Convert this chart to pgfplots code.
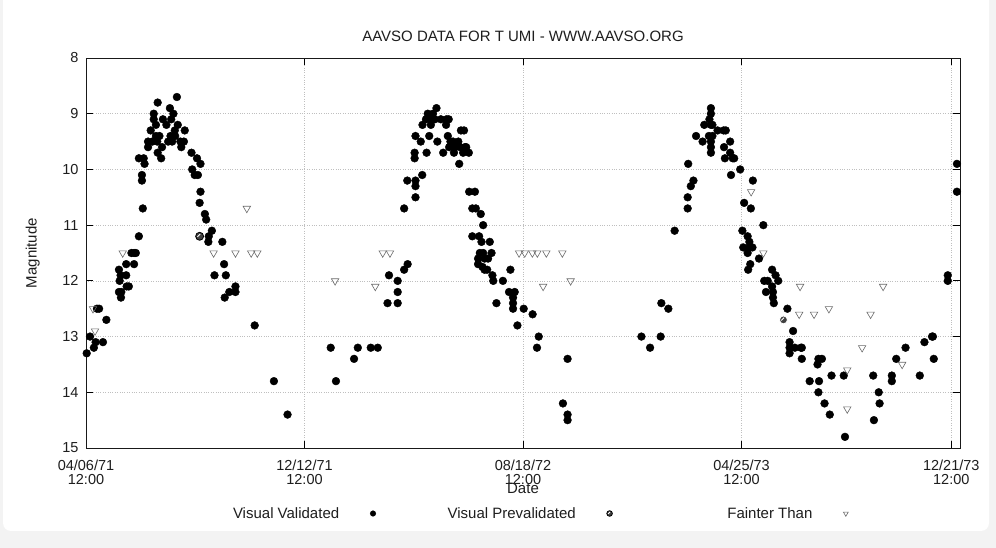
\documentclass[border=0pt]{standalone}
\usepackage{fontspec}
\setmainfont{Liberation Sans}
\usepackage{pgfplots}
\pgfplotsset{compat=1.18}
\definecolor{bggray}{HTML}{F3F3F3}
\definecolor{txt}{HTML}{1E1E1E}
\definecolor{tri}{HTML}{6A6A6A}
\pgfdeclareplotmark{preval}{%
  \pgfpathcircle{\pgfpointorigin}{\pgfplotmarksize}%
  \pgfusepathqfillstroke
  \pgfsetstrokecolor{white}\pgfsetlinewidth{0.9pt}%
  \pgfpathmoveto{\pgfpoint{-0.55\pgfplotmarksize}{-0.15\pgfplotmarksize}}%
  \pgfpathlineto{\pgfpoint{0.15\pgfplotmarksize}{0.55\pgfplotmarksize}}%
  \pgfusepathqstroke
}
\begin{document}
\begin{tikzpicture}[x=1pt,y=1pt]
\useasboundingbox (0,0) rectangle (996,548);
\fill[bggray] (0,0) rectangle (996,548);
\fill[white, rounded corners=8pt] (3,17) rectangle (989,560);
\begin{axis}[
  at={(86pt,100pt)}, anchor=south west,
  width=874pt, height=390pt, scale only axis,
  xmin=0, xmax=1000, ymin=8, ymax=15, y dir=reverse,
  xtick={0,250,500,750,990},
  xticklabels={{04/06/71\\12:00},{12/12/71\\12:00},{08/18/72\\12:00},{04/25/73\\12:00},{12/21/73\\12:00}},
  xticklabel style={align=center, font=\fontsize{14.5}{14}\selectfont, text=txt, yshift=-8pt},
  ytick={8,9,10,11,12,13,14,15},
  yticklabel style={font=\fontsize{14.5}{14}\selectfont, text=txt, xshift=-4pt},
  /pgf/number format/assume math mode=true,
  tick align=inside,
  major tick length=7pt,
  tick style={black, line width=0.8pt},
  axis line style={black!90, line width=0.9pt},
  grid=major,
  grid style={dotted, gray!50, line width=0.5pt},
  title={AAVSO DATA FOR T UMI - WWW.AAVSO.ORG},
  title style={at={(axis description cs:0.5,1)}, anchor=base, yshift=11pt, font=\fontsize{15}{15}\selectfont, text=txt},
  xlabel={Date},
  xlabel style={at={(axis description cs:0.5,0)}, anchor=base, yshift=-45pt, font=\fontsize{15}{15}\selectfont, text=txt},
  ylabel={Magnitude},
  ylabel style={at={(axis description cs:-0.0608,0.5)}, anchor=center, font=\fontsize{15}{15}\selectfont, text=txt},
  legend columns=3,
  legend plot pos=right,
  legend image code/.code={\draw[#1, mark size=2.8pt] plot coordinates {(0pt,0pt)};},
  legend style={at={(axis description cs:0,0)}, anchor=west, xshift=123pt, yshift=-65.5pt,
    draw=none, fill=none, inner sep=0pt, font=\fontsize{15}{15}\selectfont, text=txt,
    nodes={inner sep=0pt},
    /tikz/every odd column/.append style={column sep=31pt},
    /tikz/every even column/.append style={column sep=70pt}},
]
\addplot[only marks, mark=*, mark size=3.9pt, mark options={solid, fill=black, draw=black, line width=0.4pt}] table[row sep=\\] {
x y\\
0.8 13.3\\ 4.6 13.0\\ 9 13.2\\ 11 13.1\\ 12.5 12.5\\ 15 12.5\\ 19.4 13.1\\ 23.3 12.7\\
37.7 11.8\\ 39.6 11.9\\ 46 11.9\\ 38.5 12.0\\ 49 12.1\\ 46.5 12.1\\ 37.7 12.2\\ 40.4 12.2\\ 40 12.3\\
46 11.7\\ 55 11.7\\ 52 11.5\\ 55 11.5\\ 57 11.5\\ 60.5 11.2\\ 65 10.7\\ 64 10.2\\ 64 10.1\\
60.5 9.8\\ 66 9.8\\ 67 9.9\\ 71 9.5\\ 71 9.6\\ 74 9.3\\ 77.5 9.1\\ 77.5 9.0\\ 82 8.8\\ 80 9.4\\
81.5 9.5\\ 82 9.7\\ 86 9.8\\ 84 9.4\\ 87 9.6\\ 88 9.1\\ 92 9.2\\ 94 9.5\\ 96 8.9\\ 97.5 9.1\\
96.7 9.4\\ 100 9.0\\ 101.6 9.3\\ 102 9.4\\ 104 8.7\\ 105 9.2\\ 108 9.5\\ 109 9.6\\ 112 9.5\\
113 9.3\\ 98.6 9.5\\ 76 9.5\\ 80 9.2\\ 120.7 9.7\\ 127 9.8\\ 131 9.9\\ 121.5 10.0\\ 124.4 10.1\\
128 10.1\\ 131 10.4\\ 130 10.6\\ 136 10.8\\ 137.5 10.9\\ 144 11.1\\ 140.5 11.2\\ 140 11.3\\
156 11.3\\ 158 11.7\\ 147 11.9\\ 160 11.9\\ 158.7 12.3\\ 164 12.2\\ 171 12.2\\ 171 12.1\\
193 12.8\\ 215 13.8\\ 230.6 14.4\\
280 13.2\\ 286 13.8\\ 306.7 13.4\\ 311 13.2\\ 325.8 13.2\\ 333.8 13.2\\ 345 12.4\\ 356.6 12.4\\
346.7 11.9\\ 356.6 12.0\\ 356.6 12.2\\ 364 11.8\\ 368 11.7\\ 364 10.7\\ 367.6 10.2\\ 377 10.5\\
377 10.3\\ 377 10.2\\ 384.7 10.1\\ 376 9.7\\ 376 9.8\\ 377 9.4\\ 383 9.5\\ 389.7 9.7\\ 392.7 9.4\\
385 9.2\\ 389 9.1\\ 391 9.0\\ 395.4 9.1\\ 394.6 9.2\\ 397 9.0\\ 401 8.9\\ 399 9.1\\ 402 9.5\\
406 9.1\\ 412.5 9.1\\ 415 9.1\\ 412 9.2\\ 408.7 9.7\\ 414 9.4\\ 417 9.5\\ 415.5 9.6\\ 420 9.5\\
422 9.6\\ 421 9.7\\ 427 9.9\\ 429 9.3\\ 432.5 9.3\\ 426 9.5\\ 428 9.6\\ 431.5 9.7\\ 435 9.6\\
438 9.7\\ 433.5 9.6\\ 438.4 10.4\\ 445 10.4\\ 442 10.7\\ 446 10.7\\ 451.7 10.8\\ 454.4 11.0\\
442 11.2\\ 449.8 11.2\\ 452.5 11.3\\ 462 11.3\\ 450.6 11.5\\ 454.4 11.5\\ 464 11.5\\ 448.6 11.6\\
456 11.6\\ 460 11.6\\ 448.6 11.7\\ 453.6 11.75\\ 459 11.8\\ 456 11.8\\ 465 11.9\\ 466 12.0\\
485.6 11.8\\ 477 12.0\\ 469.6 12.4\\ 484 12.2\\ 490.5 12.2\\ 488.6 12.3\\ 488.6 12.4\\ 488.6 12.5\\
500.8 12.5\\ 511 12.6\\ 493.6 12.8\\ 518 13.0\\ 516 13.2\\ 551 13.4\\ 545.7 14.2\\ 551 14.4\\ 551 14.5\\
635.5 13.0\\ 645.4 13.2\\ 657.5 13.0\\ 658.3 12.4\\ 666.3 12.5\\ 673.5 11.1\\ 688.4 10.7\\
688.4 10.5\\ 692 10.3\\ 695 10.2\\ 689 9.9\\ 698 9.4\\ 705.5 9.5\\ 707.4 9.2\\ 715 8.9\\ 715 9.0\\
713.3 9.1\\ 715 9.2\\ 716.7 9.2\\ 712.7 9.4\\ 716.7 9.4\\ 715 9.5\\ 715 9.6\\ 715 9.7\\ 722.6 9.3\\
729.5 9.3\\ 732 9.3\\ 730 9.6\\ 731 9.8\\ 737 9.5\\ 737 9.7\\ 740 9.8\\ 741.6 9.8\\ 738 10.1\\
748.5 10.0\\ 763 10.2\\ 753 10.6\\ 760.7 10.7\\ 775 11.0\\ 751 11.1\\ 757 11.2\\ 759 11.3\\
752 11.4\\ 759 11.4\\ 757 11.5\\ 762.5 11.4\\ 760 11.7\\ 757.6 11.8\\ 770 11.6\\ 785 11.8\\
789 11.9\\ 792 12.0\\ 776 12.0\\ 780 12.0\\ 785 12.1\\ 786 12.2\\ 786 12.3\\ 787 12.4\\ 778 12.2\\
802.5 12.5\\ 809 12.9\\ 805 13.1\\ 805 13.2\\ 805 13.3\\ 811 13.2\\ 818 13.2\\ 819 13.2\\
819 13.4\\ 828 13.8\\ 837 13.5\\ 838 13.4\\ 842 13.4\\ 838.7 13.8\\ 838 14.0\\ 845 14.2\\
851 14.4\\ 853 13.7\\ 867 13.7\\ 868.4 14.8\\ 900.7 13.7\\ 907 14.0\\ 908 14.2\\ 901.5 14.5\\
922 13.7\\ 922 13.8\\ 927 13.4\\ 937.7 13.2\\ 954 13.7\\ 959.3 13.1\\ 968 13.0\\ 969 13.0\\
970 13.4\\ 986 11.9\\ 986 12.0\\ 996.5 9.9\\ 996.5 10.4\\
};
\addlegendentry{\makebox[130pt][r]{Visual Validated}}
\addplot[only marks, mark=preval, mark size=4pt, mark options={solid, fill=black!75, draw=black, line width=0.8pt}] table[row sep=\\] {
x y\\
130 11.2\\ 798 12.7\\
};
\addlegendentry{\makebox[130pt][r]{Visual Prevalidated}}
\addplot[only marks, mark=triangle, mark size=4.3pt, mark options={solid, rotate=180, draw=tri, fill=white, line width=0.6pt}] table[row sep=\\] {
x y\\
8 12.5\\ 10.3 12.9\\ 42 11.5\\ 146 11.5\\ 171 11.5\\ 189 11.5\\ 196 11.5\\ 184 10.7\\
285 12.0\\ 331 12.1\\ 339.5 11.5\\ 347.8 11.5\\ 495.5 11.5\\ 502 11.5\\ 510.7 11.5\\ 516.4 11.5\\
526.7 11.5\\ 545 11.5\\ 523 12.1\\ 554.5 12.0\\ 761 10.4\\ 775 11.5\\ 817 12.1\\ 912 12.1\\
816 12.6\\ 833 12.6\\ 850 12.5\\ 897.7 12.6\\ 888 13.2\\ 871 13.6\\ 871 14.3\\ 933.8 13.5\\
};
\addlegendentry{\makebox[130pt][r]{Fainter Than}}
\end{axis}
\end{tikzpicture}
\end{document}
